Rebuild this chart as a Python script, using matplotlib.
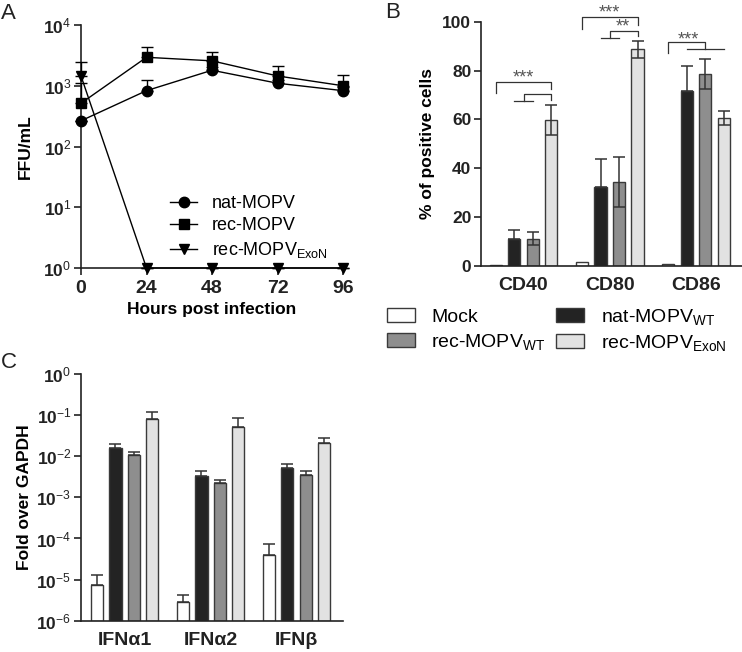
import numpy as np
import matplotlib
matplotlib.use("Agg")
import matplotlib.pyplot as plt
from matplotlib.patches import Patch
from matplotlib.lines import Line2D
from matplotlib.ticker import FixedLocator, FuncFormatter, NullLocator

plt.rcParams['font.family'] = ['Liberation Sans', 'DejaVu Sans']
plt.rcParams['mathtext.fontset'] = 'custom'
plt.rcParams['mathtext.rm'] = 'Liberation Sans'
plt.rcParams['mathtext.bf'] = 'Liberation Sans:bold'
plt.rcParams['mathtext.it'] = 'Liberation Sans:italic'

# ---------------- Data: panel A ----------------
hours = [0, 24, 48, 72, 96]
natA = [265, 830, 1800, 1100, 830]
natA_err = [0, 400, 250, 150, 120]
recA = [515, 2940, 2570, 1450, 1000]
recA_err = [585, 1330, 1080, 680, 500]
exonA = [1450, 1, 1, 1, 1]
exonA_err = [1000, 0, 0, 0, 0]

# ---------------- Data: panel B ----------------
markers_B = ['CD40', 'CD80', 'CD86']
mockB = [0.3, 1.5, 0.7]
mockB_err = [0.0, 0.0, 0.0]
natB = [11.2, 32.2, 71.8]
natB_err = [3.5, 11.5, 10.1]
recB = [11.2, 34.5, 78.6]
recB_err = [2.6, 10.3, 6.3]
exonB = [59.8, 88.7, 60.6]
exonB_err = [6.3, 3.6, 3.0]

# ---------------- Data: panel C ----------------
genes_C = ['IFNα1', 'IFNα2', 'IFNβ']
mockC = [7.4e-6, 2.9e-6, 3.9e-5]
mockC_err = [5.6e-6, 1.4e-6, 3.6e-5]
natC = [0.0163, 3.3e-3, 5.2e-3]
natC_err = [0.0037, 1.1e-3, 1.4e-3]
recC = [0.0109, 2.2e-3, 3.5e-3]
recC_err = [0.0017, 0.4e-3, 0.8e-3]
exonC = [0.080, 0.051, 0.0205]
exonC_err = [0.039, 0.034, 0.0071]

# ---------------- Styles ----------------
C_MOCK = '#ffffff'
C_NAT = '#232323'
C_REC = '#8e8e8e'
C_EXON = '#e2e2e2'
EDGE = '#3a3a3a'
XTICKFS = 14
YTICKFS = 12.5
LABFS = 12.5

W, H = 742, 652
fig = plt.figure(figsize=(W / 100, H / 100), dpi=100)


def px_axes(left, top, right, bottom):
    return fig.add_axes([left / W, 1 - bottom / H, (right - left) / W, (bottom - top) / H])


def style_axes(ax):
    for s in ['top', 'right']:
        ax.spines[s].set_visible(False)
    for s in ['left', 'bottom']:
        ax.spines[s].set_linewidth(1.2)
        ax.spines[s].set_color('#222222')
    ax.tick_params(direction='out', width=1.2, length=5, colors='#222222')
    ax.tick_params(axis='y', pad=2)
    for lab in ax.get_xticklabels():
        lab.set_fontweight('bold')
        lab.set_fontsize(XTICKFS)
    for lab in ax.get_yticklabels():
        lab.set_fontweight('bold')
        lab.set_fontsize(YTICKFS)


def logfmt(v, pos):
    e = int(round(np.log10(v)))
    return r'$\mathbf{10}^{\mathrm{%d}}$' % e


# ================= Panel A =================
axA = px_axes(81, 25, 343, 268)
axA.set_yscale('log')
axA.set_xlim(0, 96)
axA.set_ylim(1, 1e4)
kw = dict(color='black', lw=1.0, ms=7.5, mec='black', mfc='black', clip_on=False,
          elinewidth=1.0, capsize=4, capthick=1.0, ecolor='black')
axA.errorbar(hours, natA, yerr=[np.zeros(5), natA_err], marker='o', label='nat-MOPV', zorder=3, **kw)
axA.errorbar(hours, recA, yerr=[np.zeros(5), recA_err], marker='s', label='rec-MOPV', zorder=3, **kw)
axA.errorbar(hours, exonA, yerr=[np.zeros(5), exonA_err], marker='v', label=r'rec-MOPV$_{\mathrm{ExoN}}$', zorder=3, **kw)
axA.yaxis.set_major_locator(FixedLocator([1, 10, 100, 1e3, 1e4]))
axA.yaxis.set_minor_locator(NullLocator())
axA.yaxis.set_major_formatter(FuncFormatter(logfmt))
axA.set_xticks(hours)
axA.set_xticklabels([str(h) for h in hours])
axA.set_xlabel('Hours post infection', fontsize=LABFS, fontweight='bold', labelpad=4)
axA.set_ylabel('FFU/mL', fontsize=LABFS, fontweight='bold')
axA.yaxis.set_label_coords(-0.183, 0.5)
style_axes(axA)
lA = ['nat-MOPV', 'rec-MOPV', r'rec-MOPV$_{\mathrm{ExoN}}$']
hA = [Line2D([0], [0], color='black', lw=1.0, marker=m, ms=7.5) for m in ['o', 's', 'v']]
axA.legend(hA, lA, loc='upper left', bbox_to_anchor=((170 - 81) / 262, 1 - (195 - 25) / 243),
           frameon=False, fontsize=13, handlelength=1.5, handletextpad=0.8,
           borderpad=0, borderaxespad=0, labelspacing=0.3)

# ================= Panel B =================
axB = px_axes(481, 21.7, 742, 266)
xg = np.arange(3)
step = 0.2145
bw = 0.143
offs = np.array([-1.5, -0.5, 0.5, 1.5]) * step
ekw = dict(ecolor='#333333', elinewidth=1.1, capsize=4, capthick=1.1)
seriesB = [(mockB, mockB_err, C_MOCK, False), (natB, natB_err, C_NAT, True),
           (recB, recB_err, C_REC, False), (exonB, exonB_err, C_EXON, False)]
for (vals, err, col, upper_only), o in zip(seriesB, offs):
    axB.bar(xg + o, vals, width=bw, color=col, edgecolor=EDGE, lw=1.0, zorder=2)
    e = np.array(err)
    mask = e > 0
    if mask.any():
        ee = [np.zeros(mask.sum()), e[mask]] if upper_only else e[mask]
        axB.errorbar((xg + o)[mask], np.array(vals)[mask], yerr=ee, fmt='none', zorder=3, **ekw)
axB.set_xlim(-0.493, 2.533)
axB.set_ylim(0, 100)
axB.set_xticks(xg)
axB.set_xticklabels(markers_B)
axB.set_yticks([0, 20, 40, 60, 80, 100])
axB.set_ylabel('% of positive cells', fontsize=LABFS, fontweight='bold')
axB.yaxis.set_label_coords(-0.176, 0.5)
style_axes(axB)
axB.tick_params(axis='x', length=0, pad=8)

# significance brackets (Prism-style)
lk = dict(color='#333333', lw=0.9, clip_on=False, zorder=4)
sk = dict(ha='center', va='center', fontsize=13, color='#555555', clip_on=False)


def seg(ax, xs, ys):
    ax.plot(xs, ys, **lk)


# CD40
g = 0
seg(axB, [g + offs[0], g + offs[0], g + offs[3], g + offs[3]], [70.7, 75.4, 75.4, 72.4])
axB.text(g, 77.0, '***', **sk)
seg(axB, [g, g, g + offs[3], g + offs[3]], [67.7, 70.5, 70.5, 68.1])
seg(axB, [g + offs[1], g + offs[2]], [67.7, 67.7])
# CD80
g = 1
seg(axB, [g + offs[0], g + offs[0], g + offs[3], g + offs[3]], [96.9, 101.8, 101.8, 98.6])
axB.text(g, 103.6, '***', **sk)
seg(axB, [g, g, g + offs[3], g + offs[3]], [93.2, 96.3, 96.3, 94.1])
seg(axB, [g + offs[1], g + offs[2]], [93.2, 93.2])
axB.text(g + 0.153, 97.8, '**', **sk)
# CD86
g = 2
seg(axB, [g + offs[0], g + offs[0], g + offs[2], g + offs[2]], [87.1, 91.6, 91.6, 88.9])
seg(axB, [g + offs[1], g + offs[3]], [88.9, 88.9])
axB.text(g - 0.093, 92.6, '***', **sk)

# legend B
handlesB = [Patch(facecolor=C_MOCK, edgecolor=EDGE, lw=1.0),
            Patch(facecolor=C_REC, edgecolor=EDGE, lw=1.0),
            Patch(facecolor=C_NAT, edgecolor=EDGE, lw=1.0),
            Patch(facecolor=C_EXON, edgecolor=EDGE, lw=1.0)]
labelsB = ['Mock', r'rec-MOPV$_{\mathrm{WT}}$', r'nat-MOPV$_{\mathrm{WT}}$', r'rec-MOPV$_{\mathrm{ExoN}}$']
fig.legend(handlesB, labelsB, ncol=2, loc='upper left', bbox_to_anchor=(386.7 / W, 1 - 307 / H),
           frameon=False, fontsize=14, handlelength=1.45, handleheight=0.75, handletextpad=0.85,
           columnspacing=0.55, borderpad=0, borderaxespad=0, labelspacing=0.3)

# ================= Panel C =================
axC = px_axes(81, 374, 343, 620.7)
axC.set_yscale('log')
base = 1e-6
seriesC = [(mockC, mockC_err, C_MOCK), (natC, natC_err, C_NAT), (recC, recC_err, C_REC), (exonC, exonC_err, C_EXON)]
for (vals, err, col), o in zip(seriesC, offs):
    v = np.array(vals)
    axC.bar(xg + o, v - base, bottom=base, width=bw, color=col, edgecolor=EDGE, lw=1.0, zorder=2)
    axC.errorbar(xg + o, v, yerr=[np.zeros(3), err], fmt='none', zorder=3, **ekw)
axC.set_xlim(-0.507, 2.54)
axC.set_ylim(1e-6, 1)
axC.set_xticks(xg)
axC.set_xticklabels(genes_C)
axC.yaxis.set_major_locator(FixedLocator([1e-6, 1e-5, 1e-4, 1e-3, 1e-2, 1e-1, 1]))
axC.yaxis.set_minor_locator(NullLocator())
axC.yaxis.set_major_formatter(FuncFormatter(logfmt))
axC.set_ylabel('Fold over GAPDH', fontsize=LABFS, fontweight='bold')
axC.yaxis.set_label_coords(-0.187, 0.5)
style_axes(axC)
axC.tick_params(axis='x', length=0, pad=8)

# panel letters
fig.text(1 / W, 1 - 3 / H, 'A', fontsize=16, va='top', ha='left', color='#222222')
fig.text(385 / W, 1 - 2 / H, 'B', fontsize=16, va='top', ha='left', color='#222222')
fig.text(1 / W, 1 - 352 / H, 'C', fontsize=16, va='top', ha='left', color='#222222')

fig.savefig('out.png', dpi=100)
